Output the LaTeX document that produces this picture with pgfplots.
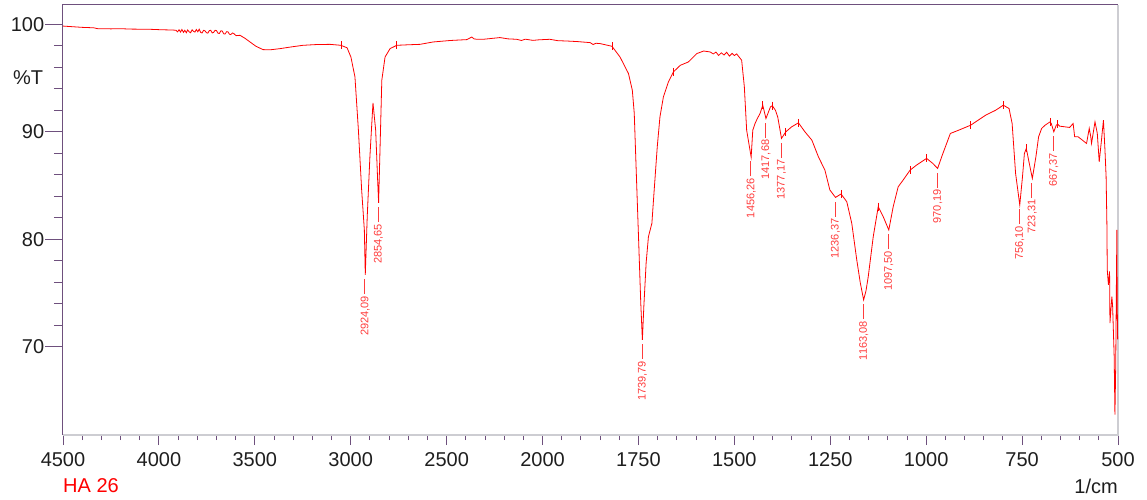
\documentclass[border=0pt]{standalone}
\usepackage{fontspec}
\setmainfont{Liberation Sans}
\usepackage{pgfplots}
\pgfplotsset{compat=1.18}
\definecolor{axpurple}{RGB}{110,80,125}
\definecolor{axgray}{RGB}{205,205,210}
\definecolor{specred}{RGB}{255,0,0}
\definecolor{labred}{RGB}{255,60,60}
\definecolor{ticktext}{RGB}{30,30,30}

\begin{document}
\begin{tikzpicture}
\path[use as bounding box] (0,0) rectangle (1147pt,499pt);
\begin{axis}[
  at={(63pt,64pt)}, anchor=south west,
  scale only axis, width=1055pt, height=430pt,
  x coord trafo/.code={\pgfmathparse{ifthenelse(#1>=2000,(4500-#1)/500,5+(2000-#1)/250)}},
  x coord inv trafo/.code={\pgfmathparse{ifthenelse(#1<=5,4500-500*#1,2000-250*(#1-5))}},
  xmin=4500, xmax=500, ymin=61.8, ymax=101.8,
  xtick={4500,4000,3500,3000,2500,2000,1750,1500,1250,1000,750,500},
  xticklabels={4500,4000,3500,3000,2500,2000,1750,1500,1250,1000,750,500},
  minor x tick num=4,
  ytick={70,80,90,100}, yticklabels={70,80,90,100},
  minor y tick num=4,
  xtick pos=bottom, ytick pos=left,
  tick align=outside,
  tick style={axpurple, line width=0.9pt},
  xtick style={/pgfplots/major tick length=10pt, /pgfplots/minor tick length=5pt},
  ytick style={/pgfplots/major tick length=18pt, /pgfplots/minor tick length=9pt},
  axis line style={draw=none},
  clip=false,
  xticklabel style={font=\fontsize{20}{24}\selectfont, text=ticktext, yshift=-10pt},
  yticklabel style={font=\fontsize{20}{24}\selectfont, text=ticktext, xshift=-11pt},
]
\draw[axgray, line width=1.2pt] (rel axis cs:0,0) -- (rel axis cs:1,0) -- (rel axis cs:1,1);
\draw[axpurple, line width=1pt] (rel axis cs:0,0) -- (rel axis cs:0,1) -- (rel axis cs:1,1);

\addplot[specred, line width=0.8pt, mark=none] table {
x y
4500 99.84
4450 99.78
4400 99.72
4340 99.68
4320 99.60
4250 99.58
4203 99.60
4150 99.56
4100 99.55
4046 99.54
3990 99.50
3927 99.47
3911 99.45
3903 99.30
3895 99.50
3887 99.28
3880 99.52
3872 99.25
3865 99.45
3857 99.22
3850 99.48
3842 99.30
3835 99.22
3827 99.50
3820 99.35
3812 99.28
3805 99.52
3797 99.30
3790 99.55
3782 99.25
3775 99.20
3767 99.45
3760 99.40
3752 99.22
3745 99.18
3737 99.42
3730 99.45
3722 99.20
3715 99.25
3707 99.45
3700 99.42
3692 99.18
3685 99.15
3677 99.40
3670 99.38
3662 99.12
3655 99.10
3647 99.32
3640 99.30
3632 99.08
3625 99.05
3617 99.20
3610 99.15
3598 98.95
3577 98.98
3551 98.70
3525 98.36
3494 97.96
3457 97.65
3421 97.63
3369 97.74
3310 97.90
3249 98.05
3180 98.12
3108 98.14
3051 98.05
3019 97.82
2999 96.96
2978 95.11
2960 90.16
2943 84.59
2929 80.87
2924.09 76.70
2914 82.11
2900 87.68
2884 92.70
2870 90.16
2859 85.24
2854.65 83.40
2847 88.61
2838 94.80
2821 96.96
2795 97.74
2760 98.05
2700 98.10
2639 98.14
2571 98.36
2480 98.50
2395 98.58
2369 98.82
2357 98.65
2343 98.61
2309 98.61
2260 98.70
2222 98.77
2180 98.65
2135 98.61
2110 98.50
2090 98.62
2050 98.51
2020 98.56
1981 98.61
1960 98.48
1937 98.45
1910 98.40
1876 98.30
1868 98.12
1861 98.24
1850 98.21
1819 97.96
1798 96.96
1776 95.42
1766 93.87
1761 91.74
1755 85.52
1749 79.32
1744 74.09
1739.79 70.66
1736 73.75
1730 77.81
1724 80.25
1715 81.49
1709 84.59
1701 88.61
1694 91.39
1685 93.25
1672 94.64
1659 95.57
1641 96.19
1620 96.50
1598 97.28
1580 97.52
1563 97.43
1555 97.25
1548 97.42
1541 97.10
1534 97.35
1527 97.15
1520 97.40
1513 97.05
1506 97.30
1500 97.10
1494 97.25
1481 96.66
1474 94.18
1468 90.16
1456.26 87.65
1452 90.16
1446 90.78
1441 91.18
1433 91.71
1426 92.48
1417.68 91.24
1406 92.32
1401 92.43
1393 92.01
1387 91.39
1377.17 89.39
1366 90.00
1351 90.46
1333 90.84
1316 90.00
1298 89.23
1281 87.68
1264 86.44
1251 84.59
1236.37 83.90
1222 84.22
1207 83.50
1194 81.49
1181 78.09
1172 76.00
1163.08 74.37
1157 75.20
1151 76.54
1138 80.25
1125 83.04
1112 82.11
1097.50 80.87
1086 83.04
1073 84.89
1060 85.52
1042 86.44
1025 86.91
999 87.53
983 87.07
970.19 86.60
958 87.84
937 89.85
915 90.16
884 90.62
845 91.55
819 92.01
799 92.48
784 92.17
776 90.78
767 86.14
756.10 83.20
749 85.82
744 87.99
739 88.46
733 87.37
723.31 85.67
714 87.68
707 89.54
699 90.32
690 90.62
677 90.93
674 90.78
667.37 90.00
661 90.62
657 90.71
652 90.53
626 90.41
617 90.78
613 89.54
604 89.54
595 89.29
582 88.92
575 90.32
571 89.54
569 88.92
560 90.93
554 89.85
549 87.21
544 88.92
538 91.09
534 88.30
531 85.82
529 81.49
528 77.16
525 75.77
522 77.01
521 72.21
516 74.68
514 73.75
510 69.11
508 63.70
506 68.18
503 80.87
502 73.80
501 70.70
};

\addplot[specred, only marks, mark=|, mark size=4pt, mark options={line width=0.8pt}] coordinates {
(3051,98.05) (2760,98.05) (1819,97.96) (1659,95.57) (1426,92.48) (1401,92.43)
(1366,90.00) (1333,90.84) (1222,84.22) (1125,83.04) (1042,86.44) (999,87.53)
(884,90.62) (799,92.48) (739,88.46) (677,90.93) (657,90.71)
};

\addplot[only marks, mark=none, point meta=explicit symbolic,
  nodes near coords={\pgfplotspointmeta\kern2pt\rule[0.3em]{15pt}{0.7pt}\kern4pt},
  nodes near coords align={anchor=east},
  every node near coord/.append style={rotate=90, anchor=east, inner sep=0pt,
    text=labred, font=\fontsize{11}{12}\selectfont}]
  table[meta=lab] {
x y lab
2924.09 76.70 2924,09
2854.65 83.40 2854,65
1739.79 70.66 1739,79
1456.26 87.65 1456,26
1417.68 91.24 1417,68
1377.17 89.39 1377,17
1236.37 83.90 1236,37
1163.08 74.37 1163,08
1097.50 80.87 1097,50
970.19 86.60 970,19
756.10 83.20 756,10
723.31 85.67 723,31
667.37 90.00 667,37
};
\end{axis}
\node[font=\fontsize{20}{24}\selectfont, text=ticktext] at (28pt,421pt) {\%T};
\node[font=\fontsize{20}{24}\selectfont, text=specred, anchor=west, inner sep=0pt] at (63pt,13pt) {HA 26};
\node[font=\fontsize{20}{24}\selectfont, text=ticktext, anchor=east, inner sep=0pt] at (1118pt,13pt) {1/cm};
\end{tikzpicture}
\end{document}
